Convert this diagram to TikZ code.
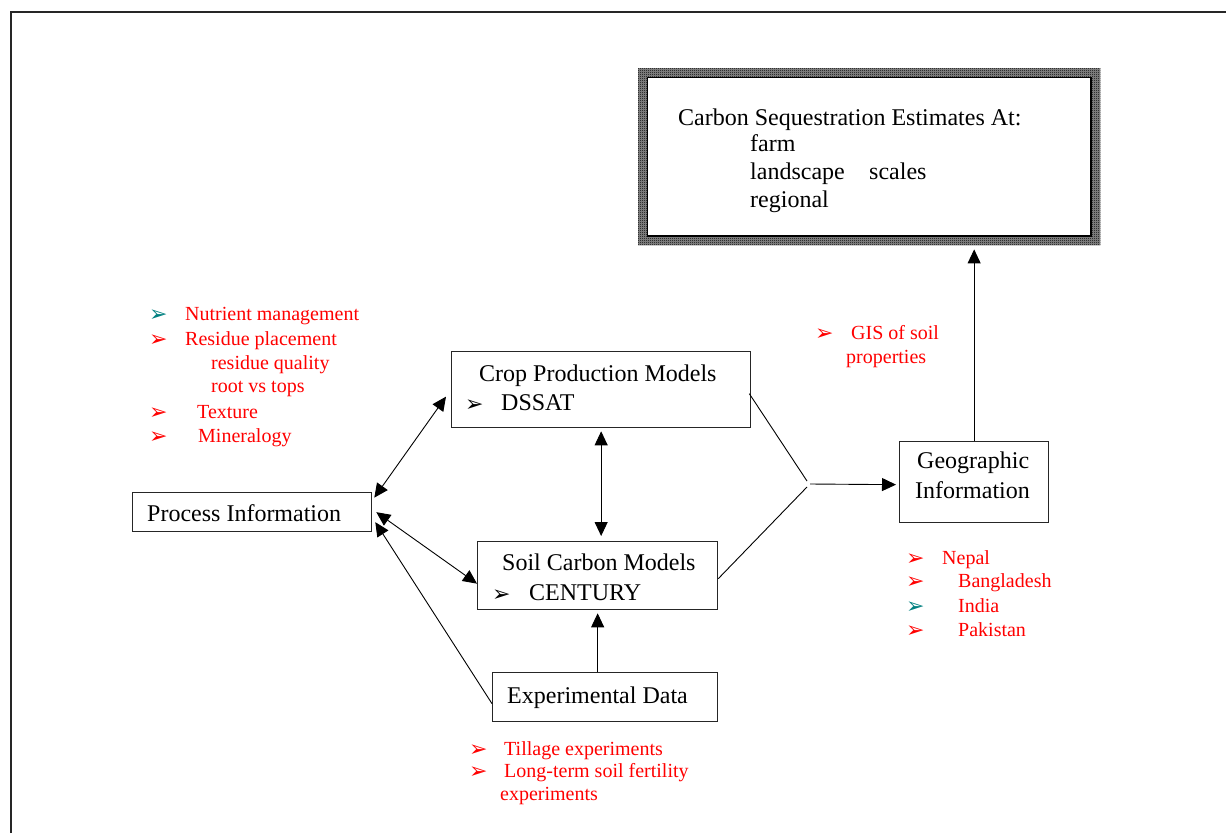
\documentclass[tikz,border=0pt]{standalone}
\usepackage{fontspec}
\setmainfont{Liberation Serif}
\newfontfamily\symfont{DejaVu Sans}
\usetikzlibrary{arrows.meta,calc,patterns.meta}
\definecolor{tealb}{RGB}{0,128,128}
\tikzdeclarepattern{name=finechecker, type=uncolored,
  bottom left={(0pt,0pt)}, top right={(2pt,2pt)}, tile size={(2pt,2pt)},
  code={\pgfpathrectangle{\pgfpointorigin}{\pgfqpoint{1pt}{1pt}}%
        \pgfpathrectangle{\pgfqpoint{1pt}{1pt}}{\pgfqpoint{1pt}{1pt}}%
        \pgfusepath{fill}}}
\begin{document}
\begin{tikzpicture}[x=1pt,y=-1pt,
  box/.style={draw=black!85, line width=1.3pt, anchor=north west, inner sep=0pt},
  blk/.style={anchor=base west, inner sep=0pt, font=\fontsize{24}{28}\selectfont},
  rtxt/.style={anchor=base west, inner sep=0pt, text=red, font=\fontsize{20}{24}\selectfont},
  bul/.style={anchor=base west, inner sep=0pt, text=red, font=\symfont\fontsize{22}{24}\selectfont},
  conn/.style={line width=0.9pt, black},
  arr/.style={conn, -{Triangle[length=14pt,width=13pt]}},
  darr/.style={conn, {Triangle[length=14pt,width=13pt]}-{Triangle[length=14pt,width=13pt]}}
]
\useasboundingbox (0,0) rectangle (1226,833);
% page frame
\draw[line width=2pt, black!85] (11,833) -- (11,12) -- (1226,12);

% top box
\node[anchor=north west, inner sep=0pt, minimum width=462pt, minimum height=177pt] (top) at (638,68) {};
\fill[black!45, even odd rule]
  (top.north west) rectangle (top.south east)
  ($(top.north west)+(9,9)$) rectangle ($(top.south east)+(-9,-9)$);
\fill[pattern=finechecker, pattern color=black, even odd rule]
  (top.north west) rectangle (top.south east)
  ($(top.north west)+(9,9)$) rectangle ($(top.south east)+(-9,-9)$);
\draw[line width=1.2pt] ($(top.north west)+(9.5,9.5)$) rectangle ($(top.south east)+(-9.5,-9.5)$);
\node[blk] (t1) at (678,125) {Carbon Sequestration Estimates At:};
\node[blk] (t2) at (750,151) {farm};
\node[blk] (t3) at (750,179) {landscape};
\node[blk] (t4) at (869,179) {scales};
\node[blk] (t5) at (750,207) {regional};

% boxes
\node[box, minimum width=299pt, minimum height=76pt] (crop) at (451,351) {};
\node[blk] (crop1) at (479,381) {Crop Production Models};
\node[bul, text=black] (crop2b) at (465,411) {➢};
\node[blk] (crop2) at (501,410) {DSSAT};

\node[box, minimum width=240pt, minimum height=68pt] (soil) at (477,541) {};
\node[blk] (soil1) at (502,570) {Soil Carbon Models};
\node[bul, text=black] (soil2b) at (492,601) {➢};
\node[blk] (soil2) at (529,600) {CENTURY};

\node[box, minimum width=239pt, minimum height=39pt] (proc) at (132,492) {};
\node[blk] (proc1) at (147,521) {Process Information};

\node[box, minimum width=225pt, minimum height=49pt] (exp) at (492,672) {};
\node[blk] (exp1) at (507,703) {Experimental Data};

\node[box, minimum width=149pt, minimum height=81pt] (geo) at (899,441) {};
\node[blk] (geo1) at (917,468) {Geographic};
\node[blk] (geo2) at (915,498) {Information};

% left red list
\node[bul, text=tealb] (lb1) at (149,321) {➢};
\node[rtxt] (l1) at (185,320) {Nutrient management};
\node[bul] (lb2) at (149,346) {➢};
\node[rtxt] (l2) at (185,345) {Residue placement};
\node[rtxt] (l3) at (211,369) {residue quality};
\node[rtxt] (l4) at (211,392) {root vs tops};
\node[bul] (lb5) at (149,419) {➢};
\node[rtxt] (l5) at (197,418) {Texture};
\node[bul] (lb6) at (149,443) {➢};
\node[rtxt] (l6) at (198,442) {Mineralogy};

% GIS
\node[bul] (gb) at (815,340) {➢};
\node[rtxt] (g1) at (851,339) {GIS of soil};
\node[rtxt] (g2) at (846,363) {properties};

% countries
\node[bul] (cb1) at (906,565) {➢};
\node[rtxt] (c1) at (942,564) {Nepal};
\node[bul] (cb2) at (906,588) {➢};
\node[rtxt] (c2) at (958,587) {Bangladesh};
\node[bul, text=tealb] (cb3) at (906,613) {➢};
\node[rtxt] (c3) at (958,612) {India};
\node[bul] (cb4) at (906,637) {➢};
\node[rtxt] (c4) at (958,636) {Pakistan};

% experiments
\node[bul] (eb1) at (469,756) {➢};
\node[rtxt] (e1) at (504,755) {Tillage experiments};
\node[bul] (eb2) at (469,778) {➢};
\node[rtxt] (e2) at (504,777) {Long-term soil fertility};
\node[rtxt] (e3) at (500,800) {experiments};

% connectors
\draw[darr] ($(proc.east)+(2,-14.5)$) -- ($(crop.west)+(-5,7)$);
\draw[darr] ($(proc.east)+(4,0)$) -- ($(soil.west)+(0,8)$);
\draw[arr] ($(exp.west)+(0,6.5)$) -- ($(proc.east)+(3,10)$);
\draw[darr] ($(crop.south)+(0,3)$) -- ($(crop.south |- soil.north)+(0,-5)$);
\draw[arr] (exp.north -| soil.south) -- ($(soil.south)+(0,3)$);
\coordinate (j1) at (807,481);
\coordinate (j2) at (807,487);
\coordinate (j3) at (810,484);
\draw[conn] ($(crop.east)+(-2,4)$) -- (j1);
\draw[conn] ($(soil.east)+(0,3)$) -- (j2);
\draw[arr] (j3) -- ($(geo.west)+(-3,2.5)$);
\draw[arr] (geo.north) -- ($(geo.north |- top.south)+(0,4)$);
\end{tikzpicture}
\end{document}
